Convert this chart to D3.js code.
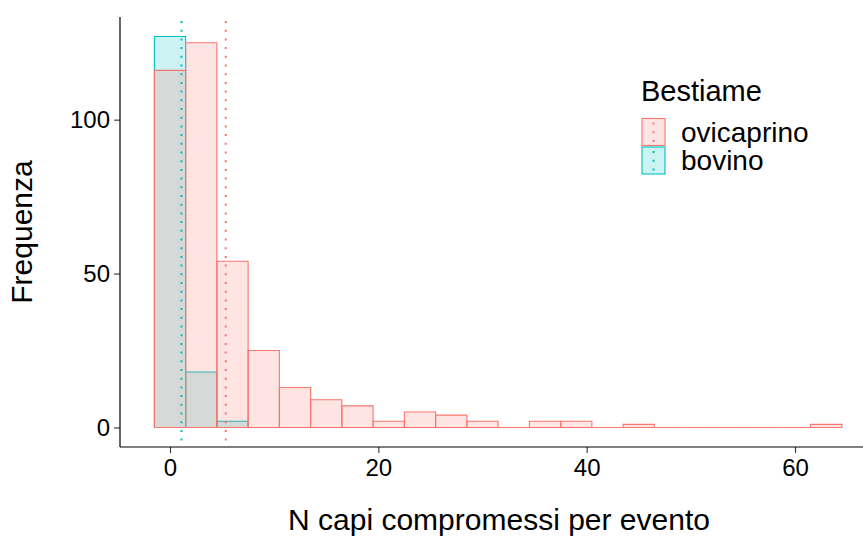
<!DOCTYPE html>
<html lang="en">
<head>
    <meta charset="UTF-8">
    <title>Bestiame - istogramma</title>
    <script src="https://d3js.org/d3.v7.js"></script>
    <style>
        body {
            margin: 0;
            background: #fff;
        }
        svg text {
            font-family: "Liberation Sans", Arial, sans-serif;
            fill: #000;
        }
    </style>
</head>
<body>
    <svg id="chart"></svg>

    <script>
        // Data: histogram counts, binwidth 3, bins centred on 0, 3, 6, ...
        const binWidth = 3;
        const ovicaprinoCounts = [116, 125, 54, 25, 13, 9, 7, 2, 5, 4, 2, 0, 2, 2, 0, 1, 0, 0, 0, 0, 0, 1];
        const bovinoCounts = [127, 18, 2];
        const meanLines = [
            { group: "ovicaprino", value: 5.35 },
            { group: "bovino", value: 1.1 }
        ];
        const groups = ["ovicaprino", "bovino"];
        const xTicks = [0, 20, 40, 60];
        const yTicks = [0, 50, 100];

        // Configuration
        const width = 863;
        const height = 537;
        const colors = { ovicaprino: "#F8766D", bovino: "#00BFC4" };

        const svg = d3.select("#chart")
            .attr("width", width)
            .attr("height", height);

        // Scales (ggplot-style 5% expansion)
        const xScale = d3.scaleLinear()
            .domain([-4.8, 67.8])
            .range([120, 876.25]);

        const yScale = d3.scaleLinear()
            .domain([-6.35, 133.35])
            .range([447, 17]);

        // Turn counts into bins
        function toBins(counts) {
            return counts.map((c, i) => ({
                x0: i * binWidth - binWidth / 2,
                x1: i * binWidth + binWidth / 2,
                count: c
            }));
        }

        // Bar as path, so zero-height bins still show a line
        function barPath(d) {
            const p = d3.path();
            const x0 = xScale(d.x0), x1 = xScale(d.x1);
            const y0 = yScale(0), y1 = yScale(d.count);
            p.moveTo(x0, y0);
            p.lineTo(x0, y1);
            p.lineTo(x1, y1);
            p.lineTo(x1, y0);
            p.closePath();
            return p.toString();
        }

        // bovino first, ovicaprino drawn on top
        const drawOrder = [
            { group: "bovino", bins: toBins(bovinoCounts) },
            { group: "ovicaprino", bins: toBins(ovicaprinoCounts) }
        ];

        drawOrder.forEach(layer => {
            svg.append("g")
                .selectAll("path")
                .data(layer.bins)
                .enter()
                .append("path")
                .attr("d", barPath)
                .attr("fill", colors[layer.group])
                .attr("fill-opacity", 0.2)
                .attr("stroke", colors[layer.group])
                .attr("stroke-width", 1.1);
        });

        // Dotted mean lines
        svg.append("g")
            .selectAll("line")
            .data(meanLines)
            .enter()
            .append("line")
            .attr("x1", d => xScale(d.value))
            .attr("x2", d => xScale(d.value))
            .attr("y1", yScale.range()[1])
            .attr("y2", yScale.range()[0])
            .attr("stroke", d => colors[d.group])
            .attr("stroke-width", 2)
            .attr("stroke-dasharray", "2,6.7")
            .attr("stroke-dashoffset", -4);

        // Axes
        const xAxis = d3.axisBottom(xScale)
            .tickValues(xTicks)
            .tickSize(6)
            .tickPadding(6);

        const yAxis = d3.axisLeft(yScale)
            .tickValues(yTicks)
            .tickSize(6)
            .tickPadding(4);

        const gx = svg.append("g")
            .attr("transform", `translate(0, ${yScale.range()[0]})`)
            .call(xAxis);

        const gy = svg.append("g")
            .attr("transform", `translate(${xScale.range()[0]}, 0)`)
            .call(yAxis);

        [gx, gy].forEach(g => {
            g.select(".domain").remove();
            g.selectAll(".tick line").attr("stroke", "#333").attr("stroke-width", 1.1);
            g.selectAll(".tick text")
                .attr("font-size", 24)
                .attr("font-family", "Liberation Sans, Arial, sans-serif")
                .attr("fill", "#000");
        });

        // Axis lines
        svg.append("line")
            .attr("x1", xScale.range()[0])
            .attr("x2", width)
            .attr("y1", yScale.range()[0])
            .attr("y2", yScale.range()[0])
            .attr("stroke", "#000")
            .attr("stroke-width", 1.2);

        svg.append("line")
            .attr("x1", xScale.range()[0])
            .attr("x2", xScale.range()[0])
            .attr("y1", yScale.range()[1])
            .attr("y2", yScale.range()[0])
            .attr("stroke", "#000")
            .attr("stroke-width", 1.2);

        // Axis titles
        svg.append("text")
            .attr("x", 499)
            .attr("y", 530)
            .attr("text-anchor", "middle")
            .attr("font-size", 30)
            .text("N capi compromessi per evento");

        svg.append("text")
            .attr("transform", "rotate(-90)")
            .attr("x", -232)
            .attr("y", 32)
            .attr("text-anchor", "middle")
            .attr("font-size", 30)
            .text("Frequenza");

        // Legend
        const legend = svg.append("g");

        legend.append("text")
            .attr("x", 641)
            .attr("y", 101)
            .attr("font-size", 29)
            .text("Bestiame");

        const keyH = 27;
        const keys = legend.selectAll("g.key")
            .data(groups)
            .enter()
            .append("g")
            .attr("class", "key")
            .attr("transform", (d, i) => `translate(642, ${118.5 + i * (keyH + 1.5)})`);

        keys.append("rect")
            .attr("width", 23)
            .attr("height", keyH)
            .attr("fill", d => colors[d])
            .attr("fill-opacity", 0.2)
            .attr("stroke", d => colors[d])
            .attr("stroke-width", 1.1);

        keys.append("line")
            .attr("x1", 11.5)
            .attr("x2", 11.5)
            .attr("y1", 0)
            .attr("y2", keyH)
            .attr("stroke", d => colors[d])
            .attr("stroke-width", 2)
            .attr("stroke-dasharray", "2,6.7")
            .attr("stroke-dashoffset", -4);

        keys.append("text")
            .attr("x", 39)
            .attr("y", 23)
            .attr("font-size", 28)
            .text(d => d);
    </script>
</body>
</html>
